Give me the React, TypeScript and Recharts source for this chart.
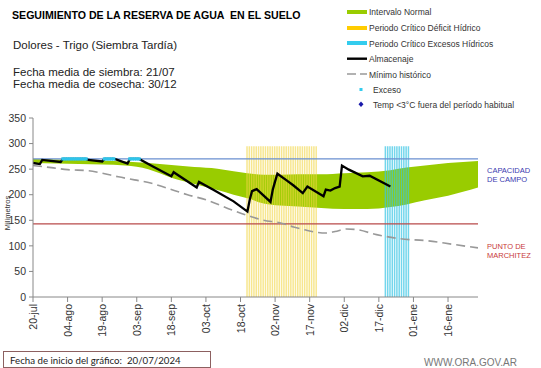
import React from "react";
import {
  ComposedChart, Area, Bar, Line, Scatter, XAxis, YAxis, ReferenceLine,
} from "recharts";

// eje X: días desde el 20/07
const tickDays = [0, 15, 30, 45, 60, 75, 90, 105, 120, 135, 150, 165, 180];
const tickLabels = ["20-jul", "04-ago", "19-ago", "03-sep", "18-sep", "03-oct", "18-oct", "02-nov", "17-nov", "02-dic", "17-dic", "01-ene", "16-ene"];
const yTicks = [0, 50, 100, 150, 200, 250, 300, 350];

const capacidadCampo = 270;
const puntoMarchitez = 143;
const alturaPeriodo = 295;

// Intervalo normal (banda verde)
const bandaDias = [0, 10, 20, 30, 40, 50, 55, 60, 65, 70, 80, 87, 93, 100, 107, 115, 125, 135, 145, 155, 162, 170, 180, 193];
const bandaInf = [262, 261, 260, 259, 257, 250, 242, 233, 227, 221, 209, 200, 193, 183, 179, 177, 174, 172, 172, 176, 181, 189, 198, 214];
const bandaSup = [270, 269, 268, 267, 265, 262, 260, 258, 256, 254, 251, 246, 242, 239, 239, 240, 240, 242, 244, 248, 253, 257, 262, 266];

// Almacenaje
const almDias = [0, 3, 4, 12, 13, 23, 24, 30, 31, 35, 36, 41, 42, 46, 52, 60, 61, 71, 72, 78, 87, 93, 94, 95, 97, 103, 104, 105, 106, 110, 113, 117, 119, 126, 127, 129, 131, 133, 134, 137, 143, 146, 155];
const almMm = [262, 260, 268, 264, 270, 270, 268, 265, 270, 270, 269, 261, 270, 270, 255, 236, 244, 214, 225, 210, 187, 167, 190, 207, 211, 186, 210, 226, 241, 228, 218, 203, 216, 197, 210, 208, 213, 216, 257, 249, 236, 237, 216];

// Mínimo histórico
const minDias = [0, 8, 15, 24, 30, 37, 44, 51, 58, 67, 75, 87, 94, 100, 107, 113, 119, 127, 131, 136, 140, 149, 159, 171, 182, 193];
const minMm = [257, 253, 249, 247, 242, 235, 229, 223, 213, 200, 190, 169, 158, 150, 145, 137, 130, 125, 128, 133, 132, 122, 114, 110, 103, 96];

// Exceso (marcas sobre capacidad de campo)
const excesoDias = [13, 14, 15, 16, 17, 18, 19, 20, 21, 22, 23, 31, 32, 33, 34, 35, 42, 43, 44, 45, 46];

// Periodos críticos
const deficitDias = [93, 94, 95, 96, 97, 98, 99, 100, 101, 102, 103, 104, 105, 106, 107, 108, 109, 110, 111, 112, 113, 114, 115, 116, 117, 118, 119, 120, 121, 122, 123];
const excesosDias = [153, 154, 155, 156, 157, 158, 159, 160, 161, 162, 163];

const bandaData = bandaDias.map((d, i) => ({ day: d, rango: [bandaInf[i], bandaSup[i]] }));
const almData = almDias.map((d, i) => ({ day: d, mm: almMm[i] }));
const minData = minDias.map((d, i) => ({ day: d, mm: minMm[i] }));
const excesoData = excesoDias.map((d) => ({ day: d, mm: capacidadCampo }));
const periodoData = [
  ...deficitDias.map((d) => ({ day: d, deficit: alturaPeriodo })),
  ...excesosDias.map((d) => ({ day: d, excesos: alturaPeriodo })),
];

const FONT = "'Liberation Sans', Arial, sans-serif";
const pre = { whiteSpace: "pre" as const };

const XTick = (props: any) => {
  const { x, y, payload } = props;
  const i = tickDays.indexOf(payload.value);
  return (
    <text x={x} y={y} transform={`rotate(-90, ${x}, ${y})`} textAnchor="end"
      dominantBaseline="central" fontSize={10.5} fill="#333" fontFamily={FONT}>
      {tickLabels[i]}
    </text>
  );
};

const ExcesoShape = (props: any) => (
  <rect x={props.cx - 1.7} y={props.cy - 1.6} width={3.4} height={3.2} fill="#2fc4ea" />
);

function Leyenda() {
  const tx = 369;
  const fs = 8.5;
  return (
    <g fontFamily={FONT} fontSize={fs} fill="#333">
      <rect x={347} y={10} width={20} height={4} fill="#99cc00" />
      <text x={tx} y={15}>Intervalo Normal</text>
      <rect x={347} y={26} width={20} height={4} fill="#ffcc00" />
      <text x={tx} y={31}>Periodo Crítico Déficit Hídrico</text>
      <rect x={347} y={41} width={20} height={4} fill="#33ccee" />
      <text x={tx} y={46.5}>Periodo Crítico Excesos Hídricos</text>
      <line x1={347} y1={58.7} x2={367} y2={58.7} stroke="#000" strokeWidth={2.4} />
      <text x={tx} y={62}>Almacenaje</text>
      <line x1={347} y1={74} x2={367} y2={74} stroke="#999" strokeWidth={1.6} strokeDasharray="9 4" />
      <text x={tx} y={77.5}>Mínimo histórico</text>
      <rect x={359.5} y={88} width={3} height={3} fill="#33ccee" />
      <text x={tx + 4} y={93}>Exceso</text>
      <path d="M361 101.5 L363.5 104.3 L361 107 L358.5 104.3 Z" fill="#1a1aaa" />
      <text x={tx + 4} y={108}>Temp &lt;3°C fuera del período habitual</text>
    </g>
  );
}

export default function App() {
  return (
    <div style={{ position: "absolute", left: 0, top: 0, width: 541, height: 368, background: "#fff" }}>
      <ComposedChart width={541} height={368} data={periodoData}
        margin={{ top: 118, right: 63, left: 0, bottom: 31 }}>
        <XAxis dataKey="day" type="number" domain={[0, 193]} ticks={tickDays} interval={0}
          allowDataOverflow height={40} tickSize={5} tickMargin={2} tick={<XTick />}
          stroke="#888" />
        <YAxis type="number" domain={[0, 350]} ticks={yTicks} width={33} tickSize={4}
          tickMargin={3} stroke="#888"
          tick={{ fontSize: 10.5, fill: "#333", fontFamily: FONT }} />
        <Area data={bandaData} dataKey="rango" type="monotone" fill="#99cc00" fillOpacity={1}
          stroke="none" isAnimationActive={false} />
        <Bar dataKey="deficit" stackId="p" barSize={1.5} fill="#f2d544" fillOpacity={0.6}
          isAnimationActive={false} />
        <Bar dataKey="excesos" stackId="p" barSize={1.5} fill="#38c4e4" fillOpacity={0.7}
          isAnimationActive={false} />
        <ReferenceLine y={capacidadCampo} stroke="#6a8fd0" strokeWidth={1.2} />
        <ReferenceLine y={puntoMarchitez} stroke="#b84a4a" strokeWidth={1.2} />
        <Line data={minData} dataKey="mm" type="monotone" stroke="#999" strokeWidth={1.6}
          strokeDasharray="9 5" dot={false} isAnimationActive={false} />
        <Line data={almData} dataKey="mm" type="linear" stroke="#000" strokeWidth={2.3}
          dot={false} isAnimationActive={false} />
        <Scatter data={excesoData} dataKey="mm" shape={<ExcesoShape />} isAnimationActive={false} />
      </ComposedChart>
      <svg width={541} height={368} style={{ position: "absolute", left: 0, top: 0, pointerEvents: "none" }}>
        <text x={12} y={19.3} fontFamily={FONT} fontSize={10.6} fontWeight="bold" fill="#000" style={pre}>
          SEGUIMIENTO DE LA RESERVA DE AGUA  EN EL SUELO
        </text>
        <g fontFamily={FONT} fontSize={11.5} fill="#222">
          <text x={13} y={48.5}>Dolores - Trigo (Siembra Tardía)</text>
          <text x={13} y={75.5}>Fecha media de siembra: 21/07</text>
          <text x={13} y={87.5}>Fecha media de cosecha: 30/12</text>
        </g>
        <Leyenda />
        <text x={10} y={213} transform="rotate(-90, 10, 213)" textAnchor="middle"
          fontFamily={FONT} fontSize={7.5} fill="#333">Milímetros</text>
        <g fontFamily={FONT} fontSize={7.5} fill="#3a3ab0" style={pre}>
          <text x={487} y={173}>CAPACIDAD</text>
          <text x={487} y={181.5}>DE  CAMPO</text>
        </g>
        <g fontFamily={FONT} fontSize={7.5} fill="#c83a3a" style={pre}>
          <text x={487} y={249}>PUNTO  DE</text>
          <text x={487} y={257.5}>MARCHITEZ</text>
        </g>
        <rect x={3.5} y={351.5} width={207} height={16} fill="none" stroke="#8c6060" strokeWidth={1} />
        <text x={10} y={363.5} fontFamily="Lato, 'Liberation Sans', sans-serif" fontSize={9.7} fill="#222" style={pre}>
          Fecha de inicio del gráfico:  20/07/2024
        </text>
        <text x={424} y={366} fontFamily={FONT} fontSize={10} fill="#777">WWW.ORA.GOV.AR</text>
      </svg>
    </div>
  );
}
